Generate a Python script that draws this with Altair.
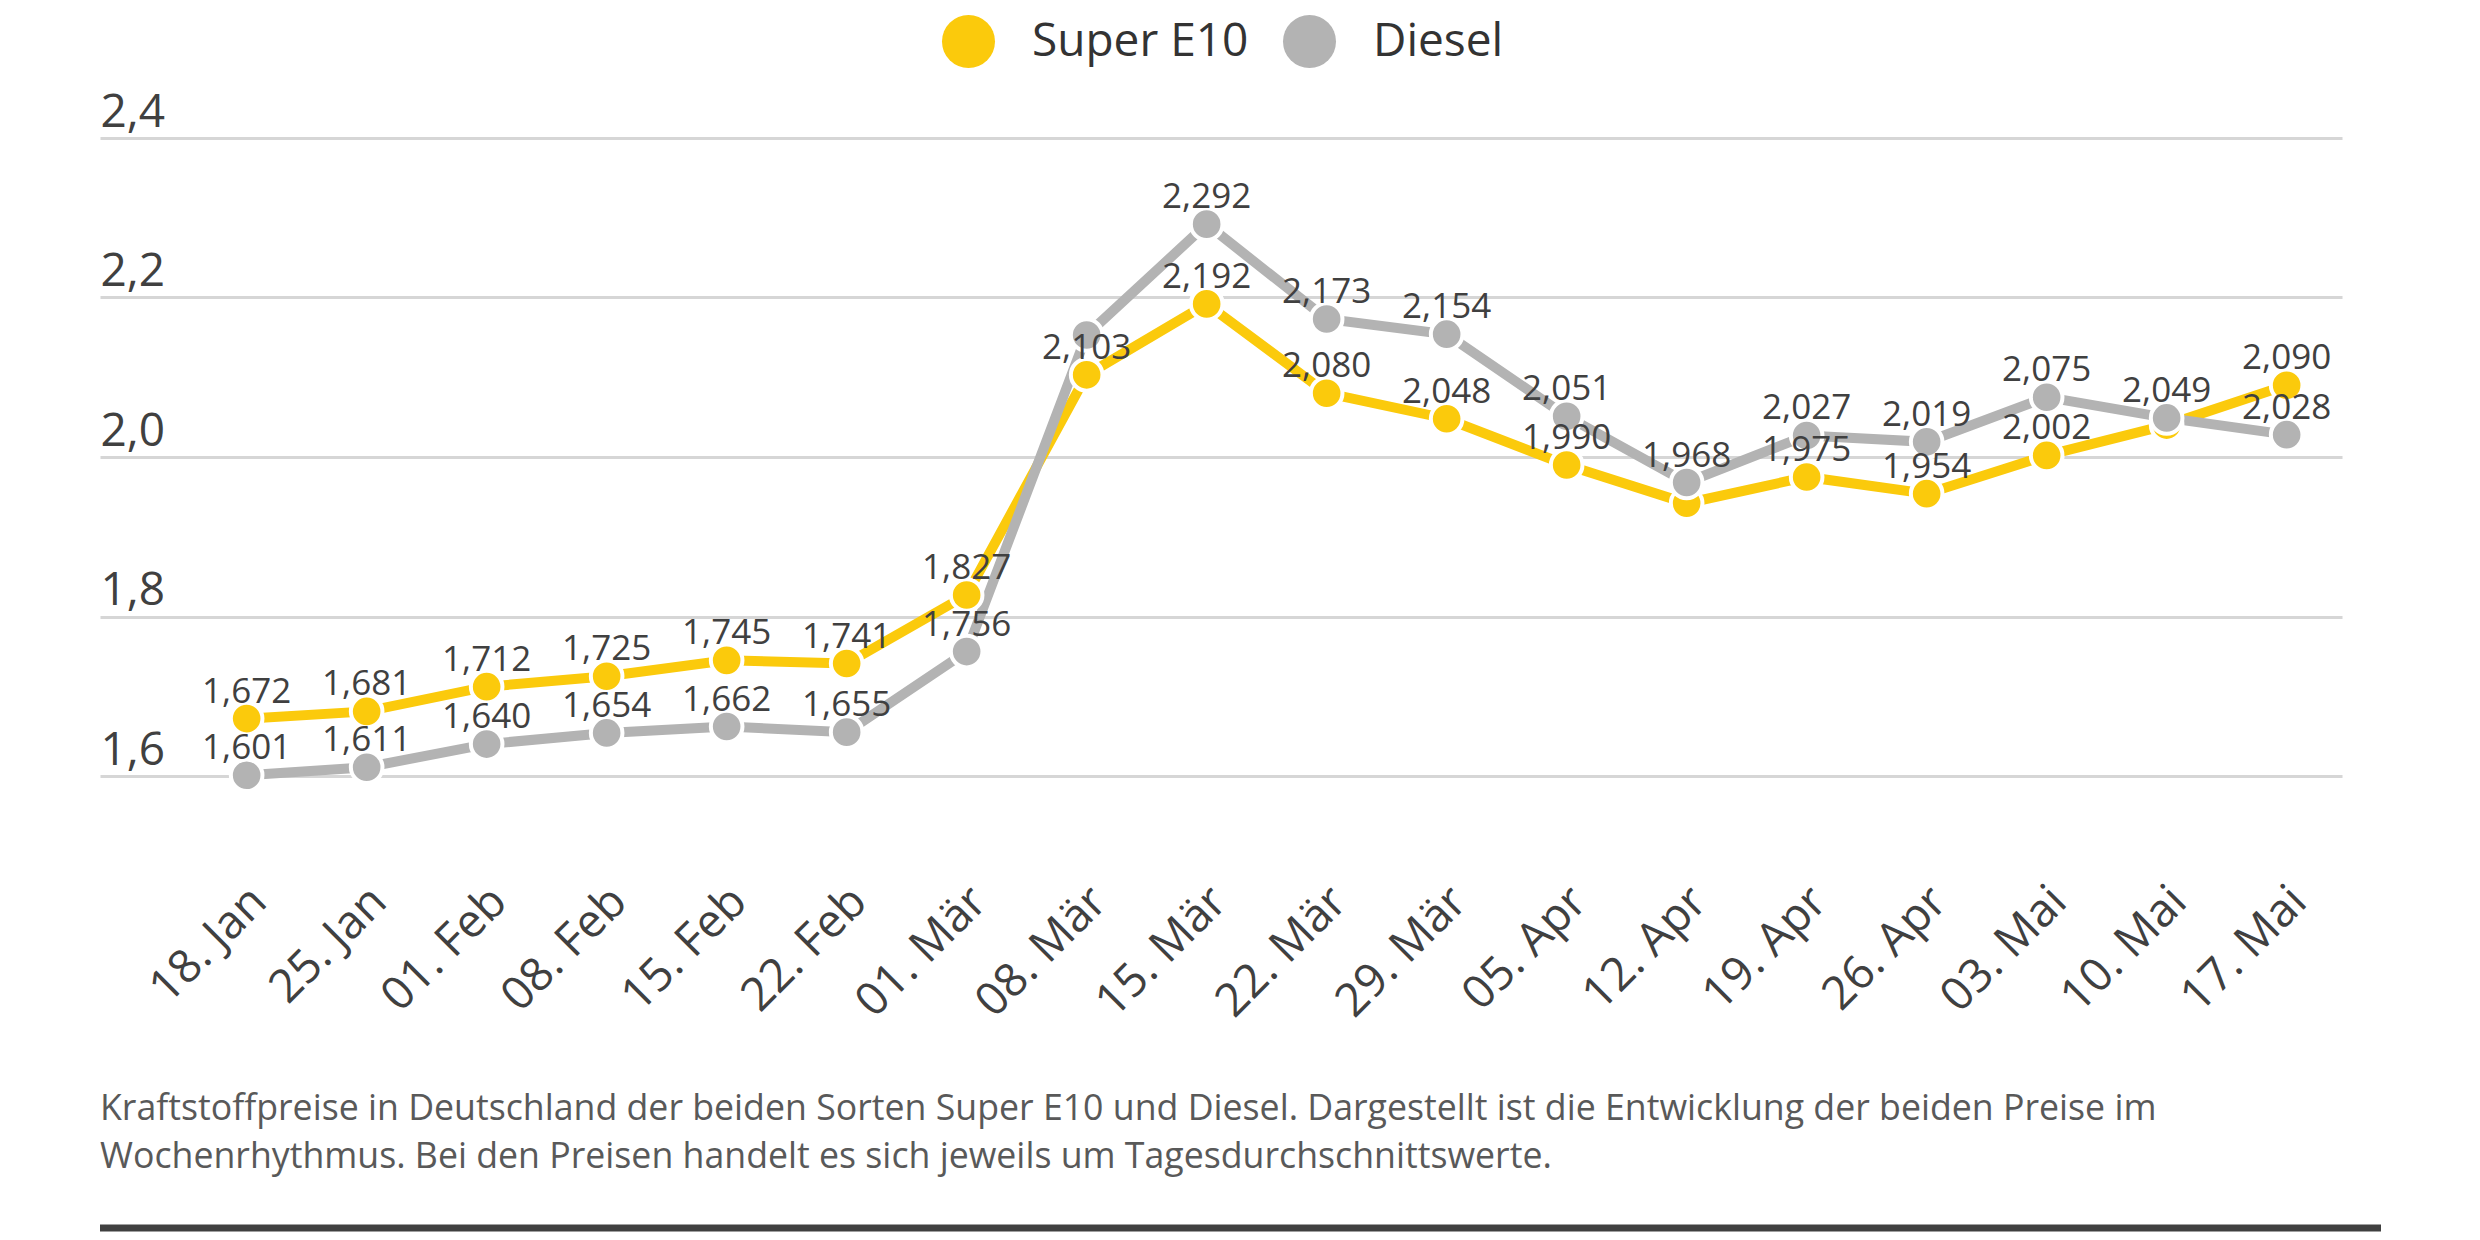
import altair as alt
import pandas as pd

dates = ["18. Jan", "25. Jan", "01. Feb", "08. Feb", "15. Feb", "22. Feb", "01. Mär",
         "08. Mär", "15. Mär", "22. Mär", "29. Mär", "05. Apr", "12. Apr", "19. Apr",
         "26. Apr", "03. Mai", "10. Mai", "17. Mai"]
super_e10 = [1.672, 1.681, 1.712, 1.725, 1.745, 1.741, 1.827, 2.103, 2.192, 2.080,
             2.048, 1.990, 1.942, 1.975, 1.954, 2.002, 2.040, 2.090]
diesel = [1.601, 1.611, 1.640, 1.654, 1.662, 1.655, 1.756, 2.153, 2.292, 2.173,
          2.154, 2.051, 1.968, 2.027, 2.019, 2.075, 2.049, 2.028]
hidden_e10 = ["12. Apr", "10. Mai"]
hidden_diesel = ["08. Mär"]
y_ticks = [1.6, 1.8, 2.0, 2.2, 2.4]
series = ["Super E10", "Diesel"]
colors = ["#FBCA0C", "#B3B3B3"]
caption = [
    "Kraftstoffpreise in Deutschland der beiden Sorten Super E10 und Diesel. Dargestellt ist die Entwicklung der beiden Preise im",
    "Wochenrhythmus. Bei den Preisen handelt es sich jeweils um Tagesdurchschnittswerte.",
]

FONT = "Open Sans"
TEXT = "#404040"

rows = []
for name, vals, hidden in [("Super E10", super_e10, hidden_e10), ("Diesel", diesel, hidden_diesel)]:
    for d, v in zip(dates, vals):
        lab = "" if d in hidden else f"{v:.3f}".replace(".", ",")
        rows.append({"date": d, "series": name, "value": v, "label": lab})
df = pd.DataFrame(rows)

W, H = 2242, 638

x_enc = alt.X(
    "date:N", sort=dates,
    scale=alt.Scale(type="point", padding=0.8417, align=0.726),
    axis=alt.Axis(
        title=None, domain=False, ticks=False, tickSize=0, grid=False,
        labelAngle=-45, labelAlign="right", labelBaseline="middle",
        labelPadding=118, labelOffset=12, labelFontSize=46, labelColor=TEXT,
        labelFont=FONT, labelOverlap=False,
    ),
)
y_enc = alt.Y(
    "value:Q",
    scale=alt.Scale(domain=[1.6, 2.4], nice=False, zero=False),
    axis=alt.Axis(
        title=None, values=y_ticks, domain=False, ticks=False, tickSize=0,
        grid=True, gridColor="#D6D6D6", gridWidth=3,
        labelAlign="left", labelBaseline="alphabetic", labelPadding=0,
        labelOffset=-12, labelFontSize=46, labelColor=TEXT, labelFont=FONT,
        labelExpr="replace(format(datum.value, '.1f'), '.', ',')",
    ),
)
legend = alt.Legend(
    title=None, orient="none", legendX=842, legendY=-123, direction="horizontal",
    symbolType="circle", symbolSize=2809, symbolStrokeWidth=0, symbolOpacity=1,
    labelFontSize=46, labelFont=FONT, labelColor="#333333", labelOffset=37,
    labelLimit=0, columnPadding=34, padding=0,
)
color_scale = alt.Scale(domain=series, range=colors)
color_enc = alt.Color("series:N", scale=color_scale, legend=legend)

base = alt.Chart(df)

def lines(name):
    return base.transform_filter(alt.datum.series == name).mark_line(strokeWidth=10).encode(
        x=x_enc, y=y_enc, color=color_enc)

def points(name):
    return base.transform_filter(alt.datum.series == name).mark_circle(
        size=1000, stroke="white", strokeWidth=4, opacity=1).encode(
        x=x_enc, y=y_enc, color=color_enc)

labels = base.transform_filter(alt.datum.label != "").mark_text(
    dy=-16, fontSize=35, font=FONT, color=TEXT, baseline="alphabetic", align="center"
).encode(x=x_enc, y=y_enc, text="label:N")

cap = alt.Chart(alt.Data(values=[{}])).mark_text(
    text=caption, align="left", baseline="alphabetic", fontSize=35.7, lineHeight=48,
    font=FONT, color="#595959"
).encode(x=alt.value(0), y=alt.value(982))

bar = alt.Chart(alt.Data(values=[{}])).mark_rule(color="#404040", strokeWidth=7).encode(
    x=alt.value(0), x2=alt.value(2281), y=alt.value(1090))

chart = alt.layer(
    points("Super E10"), lines("Super E10"), lines("Diesel"), points("Super E10"),
    points("Diesel"), labels, cap, bar,
).properties(
    width=W, height=H, autosize=alt.AutoSizeParams(type="none"),
    padding={"left": 92, "top": 130, "right": 130, "bottom": 456},
    background="white",
).configure_view(stroke=None)

chart.save("out.html", embed_options={"renderer": "svg", "actions": False})
